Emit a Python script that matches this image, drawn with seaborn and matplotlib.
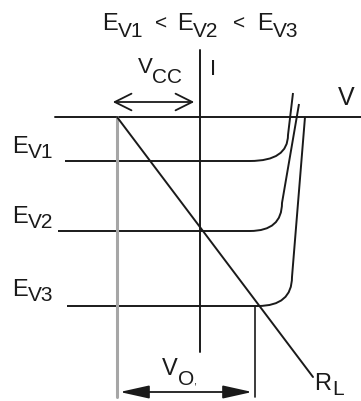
import matplotlib
matplotlib.use("Agg")
import matplotlib.pyplot as plt
from matplotlib.path import Path
from matplotlib.patches import PathPatch, FancyArrowPatch
import seaborn as sns

sns.set_theme(style="white")
plt.rcParams['font.family'] = ['Liberation Sans', 'DejaVu Sans']

# diagram values, origin at the V/I axis crossing (downwards = photocurrent)
v_axis = [-145, 161]
i_axis = [67, -235]
vcc = -83
bottom = -280
levels = [-44, -114, -189]
level_names = ["V1", "V2", "V3"]
flat_start = [-135, -142, -133]
knee_start = [50, 50, 58]
knee_x = [88, 82, 92]
knee_end = [-18, -86, -160]
top_x = [93, 99, 105]
top_y = [24, 13, 0]
load_line_v = [vcc, 113]
load_line_i = [0, -260]
vo = 55

ink = "#1a1a1a"
fig = plt.figure(figsize=(3.61, 4.01), dpi=100)
ax = fig.add_axes([0, 0, 1, 1])
ax.set_xlim(-200, 161)
ax.set_ylim(-284, 117)
ax.axis("off")

# axes
sns.lineplot(x=v_axis, y=[0, 0], ax=ax, color=ink, lw=1.4, sort=False)
sns.lineplot(x=[0, 0], y=i_axis, ax=ax, color=ink, lw=1.4, sort=False, estimator=None)

# Vcc marker (grey) and Vo marker
sns.lineplot(x=[vcc, vcc], y=[0, bottom], ax=ax, color="#a6a6a6", lw=2.2, sort=False, estimator=None)
sns.lineplot(x=[vo, vo], y=[levels[2], bottom], ax=ax, color=ink, lw=1.2, sort=False, estimator=None)

# I-V curves for the three illuminances
for k in range(3):
    verts = [(flat_start[k], levels[k]), (knee_start[k], levels[k]),
             (knee_x[k], levels[k]), (knee_x[k], knee_end[k]),
             (top_x[k], top_y[k])]
    codes = [Path.MOVETO, Path.LINETO, Path.CURVE3, Path.CURVE3, Path.LINETO]
    ax.add_patch(PathPatch(Path(verts, codes), fill=False, ec=ink, lw=1.4))

# load line
sns.lineplot(x=load_line_v, y=load_line_i, ax=ax, color=ink, lw=1.4, sort=False)

# arrows
ax.add_patch(FancyArrowPatch((-90, 15), (-3, 15), arrowstyle="<->,head_length=12,head_width=6",
                             mutation_scale=1, color=ink, lw=1.3))
ax.add_patch(FancyArrowPatch((vcc, -275), (vo, -275), arrowstyle="<|-|>,head_length=18,head_width=4",
                             mutation_scale=1, color=ink, lw=1.3))


def lab(x, y, s, size):
    ax.text(x, y, s, fontsize=size, color=ink, ha="left", va="baseline")


# title
lab(-98, 87, "E", 17); lab(-82, 80, "V1", 15)
lab(-45, 87, "<", 15)
lab(-23, 87, "E", 17); lab(-7, 80, "V2", 15)
lab(33, 87, "<", 15)
lab(57, 87, "E", 17); lab(73, 80, "V3", 15)

lab(-62, 44, "V", 16); lab(-48, 34, "CC", 15)
lab(10, 42, "I", 16)
lab(138, 12, "V", 18)

for name, bl in zip(level_names, [-36, -106, -179]):
    lab(-188, bl, "E", 17)
    lab(-172, bl - 5, name, 15)

lab(-38, -258, "V", 17); lab(-22, -268, "O", 15); lab(-7, -268, ",", 8)
lab(114, -273, "R", 17); lab(132, -278, "L", 15)

fig.savefig("out.png", dpi=100)
